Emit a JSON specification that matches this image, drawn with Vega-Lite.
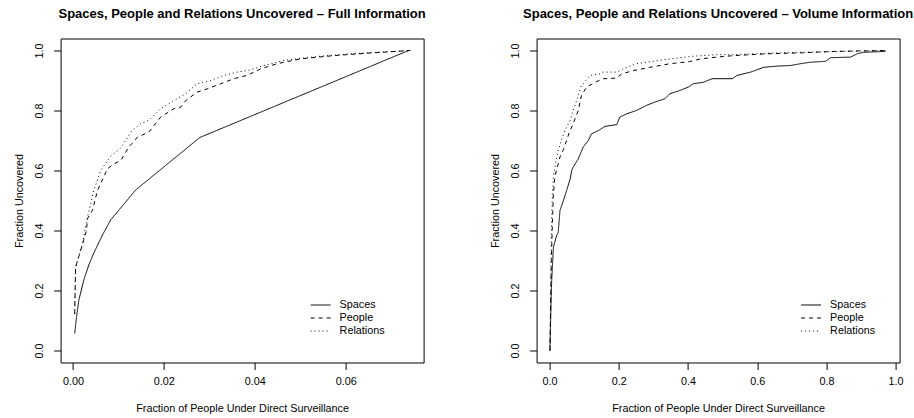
{
  "$schema": "https://vega.github.io/schema/vega-lite/v6.json",
  "background": "white",
  "padding": {"left": 12.6, "top": 7.5, "right": 5, "bottom": 5},
  "data": {"values": [
    {"p":"Full","s":"Spaces","x":0.0004,"y":0.057},{"p":"Full","s":"Spaces","x":0.0008,"y":0.111},{"p":"Full","s":"Spaces","x":0.0013,"y":0.167},{"p":"Full","s":"Spaces","x":0.0024,"y":0.235},{"p":"Full","s":"Spaces","x":0.0035,"y":0.285},{"p":"Full","s":"Spaces","x":0.0046,"y":0.325},{"p":"Full","s":"Spaces","x":0.0065,"y":0.385},{"p":"Full","s":"Spaces","x":0.0083,"y":0.435},{"p":"Full","s":"Spaces","x":0.0138,"y":0.535},{"p":"Full","s":"Spaces","x":0.0279,"y":0.71},{"p":"Full","s":"Spaces","x":0.0738,"y":1.0},
    {"p":"Full","s":"People","x":0.0004,"y":0.122},{"p":"Full","s":"People","x":0.0006,"y":0.278},{"p":"Full","s":"People","x":0.0017,"y":0.333},{"p":"Full","s":"People","x":0.003,"y":0.4},{"p":"Full","s":"People","x":0.0032,"y":0.439},{"p":"Full","s":"People","x":0.0043,"y":0.467},{"p":"Full","s":"People","x":0.0054,"y":0.533},{"p":"Full","s":"People","x":0.0076,"y":0.606},{"p":"Full","s":"People","x":0.009,"y":0.622},{"p":"Full","s":"People","x":0.0105,"y":0.633},{"p":"Full","s":"People","x":0.0123,"y":0.678},{"p":"Full","s":"People","x":0.0142,"y":0.711},{"p":"Full","s":"People","x":0.0167,"y":0.728},{"p":"Full","s":"People","x":0.0193,"y":0.778},{"p":"Full","s":"People","x":0.0222,"y":0.806},{"p":"Full","s":"People","x":0.0237,"y":0.811},{"p":"Full","s":"People","x":0.0248,"y":0.833},{"p":"Full","s":"People","x":0.0273,"y":0.861},{"p":"Full","s":"People","x":0.0295,"y":0.872},{"p":"Full","s":"People","x":0.0325,"y":0.889},{"p":"Full","s":"People","x":0.0354,"y":0.906},{"p":"Full","s":"People","x":0.0383,"y":0.917},{"p":"Full","s":"People","x":0.0413,"y":0.939},{"p":"Full","s":"People","x":0.0449,"y":0.956},{"p":"Full","s":"People","x":0.05,"y":0.972},{"p":"Full","s":"People","x":0.0574,"y":0.983},{"p":"Full","s":"People","x":0.0647,"y":0.991},{"p":"Full","s":"People","x":0.0742,"y":1.0},
    {"p":"Full","s":"Relations","x":0.0004,"y":0.122},{"p":"Full","s":"Relations","x":0.0006,"y":0.278},{"p":"Full","s":"Relations","x":0.001,"y":0.3},{"p":"Full","s":"Relations","x":0.0021,"y":0.356},{"p":"Full","s":"Relations","x":0.0032,"y":0.444},{"p":"Full","s":"Relations","x":0.0046,"y":0.533},{"p":"Full","s":"Relations","x":0.0061,"y":0.6},{"p":"Full","s":"Relations","x":0.0083,"y":0.647},{"p":"Full","s":"Relations","x":0.0105,"y":0.675},{"p":"Full","s":"Relations","x":0.013,"y":0.733},{"p":"Full","s":"Relations","x":0.0149,"y":0.756},{"p":"Full","s":"Relations","x":0.0167,"y":0.767},{"p":"Full","s":"Relations","x":0.0193,"y":0.806},{"p":"Full","s":"Relations","x":0.0222,"y":0.833},{"p":"Full","s":"Relations","x":0.0248,"y":0.856},{"p":"Full","s":"Relations","x":0.0273,"y":0.889},{"p":"Full","s":"Relations","x":0.0303,"y":0.9},{"p":"Full","s":"Relations","x":0.0332,"y":0.917},{"p":"Full","s":"Relations","x":0.0361,"y":0.928},{"p":"Full","s":"Relations","x":0.039,"y":0.935},{"p":"Full","s":"Relations","x":0.042,"y":0.95},{"p":"Full","s":"Relations","x":0.0464,"y":0.967},{"p":"Full","s":"Relations","x":0.0537,"y":0.98},{"p":"Full","s":"Relations","x":0.061,"y":0.989},{"p":"Full","s":"Relations","x":0.0742,"y":1.0},
    {"p":"Volume","s":"Spaces","x":0.001,"y":0.0},{"p":"Volume","s":"Spaces","x":0.004,"y":0.15},{"p":"Volume","s":"Spaces","x":0.006,"y":0.233},{"p":"Volume","s":"Spaces","x":0.011,"y":0.344},{"p":"Volume","s":"Spaces","x":0.02,"y":0.383},{"p":"Volume","s":"Spaces","x":0.025,"y":0.394},{"p":"Volume","s":"Spaces","x":0.03,"y":0.467},{"p":"Volume","s":"Spaces","x":0.04,"y":0.5},{"p":"Volume","s":"Spaces","x":0.049,"y":0.533},{"p":"Volume","s":"Spaces","x":0.059,"y":0.57},{"p":"Volume","s":"Spaces","x":0.064,"y":0.6},{"p":"Volume","s":"Spaces","x":0.068,"y":0.611},{"p":"Volume","s":"Spaces","x":0.083,"y":0.639},{"p":"Volume","s":"Spaces","x":0.097,"y":0.678},{"p":"Volume","s":"Spaces","x":0.112,"y":0.7},{"p":"Volume","s":"Spaces","x":0.121,"y":0.722},{"p":"Volume","s":"Spaces","x":0.141,"y":0.733},{"p":"Volume","s":"Spaces","x":0.16,"y":0.747},{"p":"Volume","s":"Spaces","x":0.194,"y":0.753},{"p":"Volume","s":"Spaces","x":0.203,"y":0.778},{"p":"Volume","s":"Spaces","x":0.223,"y":0.789},{"p":"Volume","s":"Spaces","x":0.251,"y":0.8},{"p":"Volume","s":"Spaces","x":0.28,"y":0.817},{"p":"Volume","s":"Spaces","x":0.304,"y":0.828},{"p":"Volume","s":"Spaces","x":0.333,"y":0.839},{"p":"Volume","s":"Spaces","x":0.348,"y":0.856},{"p":"Volume","s":"Spaces","x":0.377,"y":0.867},{"p":"Volume","s":"Spaces","x":0.401,"y":0.878},{"p":"Volume","s":"Spaces","x":0.415,"y":0.889},{"p":"Volume","s":"Spaces","x":0.444,"y":0.894},{"p":"Volume","s":"Spaces","x":0.47,"y":0.906},{"p":"Volume","s":"Spaces","x":0.528,"y":0.906},{"p":"Volume","s":"Spaces","x":0.542,"y":0.917},{"p":"Volume","s":"Spaces","x":0.581,"y":0.928},{"p":"Volume","s":"Spaces","x":0.619,"y":0.944},{"p":"Volume","s":"Spaces","x":0.658,"y":0.948},{"p":"Volume","s":"Spaces","x":0.697,"y":0.95},{"p":"Volume","s":"Spaces","x":0.725,"y":0.956},{"p":"Volume","s":"Spaces","x":0.754,"y":0.961},{"p":"Volume","s":"Spaces","x":0.798,"y":0.964},{"p":"Volume","s":"Spaces","x":0.812,"y":0.976},{"p":"Volume","s":"Spaces","x":0.87,"y":0.978},{"p":"Volume","s":"Spaces","x":0.889,"y":0.989},{"p":"Volume","s":"Spaces","x":0.908,"y":0.994},{"p":"Volume","s":"Spaces","x":0.971,"y":0.997},
    {"p":"Volume","s":"People","x":0.001,"y":0.0},{"p":"Volume","s":"People","x":0.003,"y":0.15},{"p":"Volume","s":"People","x":0.005,"y":0.3},{"p":"Volume","s":"People","x":0.008,"y":0.42},{"p":"Volume","s":"People","x":0.011,"y":0.52},{"p":"Volume","s":"People","x":0.015,"y":0.578},{"p":"Volume","s":"People","x":0.022,"y":0.61},{"p":"Volume","s":"People","x":0.03,"y":0.645},{"p":"Volume","s":"People","x":0.04,"y":0.67},{"p":"Volume","s":"People","x":0.049,"y":0.7},{"p":"Volume","s":"People","x":0.058,"y":0.73},{"p":"Volume","s":"People","x":0.068,"y":0.756},{"p":"Volume","s":"People","x":0.076,"y":0.78},{"p":"Volume","s":"People","x":0.083,"y":0.8},{"p":"Volume","s":"People","x":0.092,"y":0.85},{"p":"Volume","s":"People","x":0.107,"y":0.878},{"p":"Volume","s":"People","x":0.131,"y":0.894},{"p":"Volume","s":"People","x":0.155,"y":0.906},{"p":"Volume","s":"People","x":0.194,"y":0.908},{"p":"Volume","s":"People","x":0.208,"y":0.922},{"p":"Volume","s":"People","x":0.242,"y":0.933},{"p":"Volume","s":"People","x":0.29,"y":0.944},{"p":"Volume","s":"People","x":0.348,"y":0.956},{"p":"Volume","s":"People","x":0.405,"y":0.963},{"p":"Volume","s":"People","x":0.436,"y":0.972},{"p":"Volume","s":"People","x":0.483,"y":0.978},{"p":"Volume","s":"People","x":0.533,"y":0.983},{"p":"Volume","s":"People","x":0.629,"y":0.989},{"p":"Volume","s":"People","x":0.725,"y":0.992},{"p":"Volume","s":"People","x":0.822,"y":0.997},{"p":"Volume","s":"People","x":0.971,"y":1.0},
    {"p":"Volume","s":"Relations","x":0.001,"y":0.0},{"p":"Volume","s":"Relations","x":0.003,"y":0.2},{"p":"Volume","s":"Relations","x":0.005,"y":0.4},{"p":"Volume","s":"Relations","x":0.008,"y":0.52},{"p":"Volume","s":"Relations","x":0.011,"y":0.578},{"p":"Volume","s":"Relations","x":0.018,"y":0.63},{"p":"Volume","s":"Relations","x":0.025,"y":0.667},{"p":"Volume","s":"Relations","x":0.04,"y":0.722},{"p":"Volume","s":"Relations","x":0.059,"y":0.767},{"p":"Volume","s":"Relations","x":0.078,"y":0.833},{"p":"Volume","s":"Relations","x":0.092,"y":0.883},{"p":"Volume","s":"Relations","x":0.117,"y":0.917},{"p":"Volume","s":"Relations","x":0.145,"y":0.922},{"p":"Volume","s":"Relations","x":0.155,"y":0.928},{"p":"Volume","s":"Relations","x":0.194,"y":0.928},{"p":"Volume","s":"Relations","x":0.213,"y":0.939},{"p":"Volume","s":"Relations","x":0.251,"y":0.956},{"p":"Volume","s":"Relations","x":0.3,"y":0.964},{"p":"Volume","s":"Relations","x":0.348,"y":0.972},{"p":"Volume","s":"Relations","x":0.415,"y":0.981},{"p":"Volume","s":"Relations","x":0.483,"y":0.986},{"p":"Volume","s":"Relations","x":0.533,"y":0.986},{"p":"Volume","s":"Relations","x":0.629,"y":0.991},{"p":"Volume","s":"Relations","x":0.725,"y":0.994},{"p":"Volume","s":"Relations","x":0.971,"y":1.0}
  ]},
  "config": {
    "font": "Liberation Sans",
    "view": {"stroke": "black", "strokeWidth": 1},
    "axis": {"domain": false, "grid": false, "tickColor": "black", "tickSize": 7, "labelColor": "black", "labelFontSize": 10.8, "labelFont": "Liberation Sans", "titleFont": "Liberation Sans", "titleFontSize": 10.8, "titleFontWeight": "normal", "titleColor": "black"},
    "axisX": {"labelPadding": 6.5, "titlePadding": 16},
    "axisY": {"labelAngle": 270, "labelAlign": "center", "labelBaseline": "bottom", "labelPadding": 9, "titlePadding": 9.5},
    "title": {"font": "Liberation Sans", "fontSize": 13, "fontWeight": "bold", "color": "black", "anchor": "middle", "offset": 17.5},
    "legend": {"symbolType": "stroke", "symbolSize": 400, "symbolStrokeWidth": 1, "symbolStrokeColor": "black", "labelFontSize": 10.8, "labelFont": "Liberation Sans", "labelColor": "black", "labelOffset": 8.5, "clipHeight": 13, "rowPadding": 0, "padding": 0}
  },
  "spacing": 113,
  "bounds": "flush",
  "resolve": {"scale": {"x": "independent", "strokeDash": "independent"}, "legend": {"strokeDash": "independent"}},
  "hconcat": [
    {
      "title": "Spaces, People and Relations Uncovered – Full Information",
      "width": 363, "height": 324,
      "transform": [{"filter": "datum.p == 'Full'"}],
      "mark": {"type": "line", "color": "black", "strokeWidth": 1, "clip": true},
      "encoding": {
        "x": {"field": "x", "type": "quantitative", "title": "Fraction of People Under Direct Surveillance", "scale": {"domain": [-0.0027, 0.0771], "nice": false, "zero": false}, "axis": {"values": [0, 0.02, 0.04, 0.06], "format": ".2f"}},
        "y": {"field": "y", "type": "quantitative", "title": "Fraction Uncovered", "scale": {"domain": [-0.04, 1.04], "nice": false, "zero": false}, "axis": {"values": [0, 0.2, 0.4, 0.6, 0.8, 1.0], "format": ".1f"}},
        "strokeDash": {"field": "s", "type": "nominal", "scale": {"domain": ["Spaces", "People", "Relations"], "range": [[1, 0], [4, 4], [1, 3]]}, "legend": {"orient": "none", "legendX": 249.5, "legendY": 260, "title": null}}
      }
    },
    {
      "title": "Spaces, People and Relations Uncovered – Volume Information",
      "width": 363, "height": 324,
      "transform": [{"filter": "datum.p == 'Volume'"}],
      "mark": {"type": "line", "color": "black", "strokeWidth": 1, "clip": true},
      "encoding": {
        "x": {"field": "x", "type": "quantitative", "title": "Fraction of People Under Direct Surveillance", "scale": {"domain": [-0.0376, 1.0116], "nice": false, "zero": false}, "axis": {"values": [0, 0.2, 0.4, 0.6, 0.8, 1.0], "format": ".1f"}},
        "y": {"field": "y", "type": "quantitative", "title": "Fraction Uncovered", "scale": {"domain": [-0.04, 1.04], "nice": false, "zero": false}, "axis": {"values": [0, 0.2, 0.4, 0.6, 0.8, 1.0], "format": ".1f"}},
        "strokeDash": {"field": "s", "type": "nominal", "scale": {"domain": ["Spaces", "People", "Relations"], "range": [[1, 0], [4, 4], [1, 3]]}, "legend": {"orient": "none", "legendX": 264, "legendY": 260, "title": null}}
      }
    }
  ]
}
